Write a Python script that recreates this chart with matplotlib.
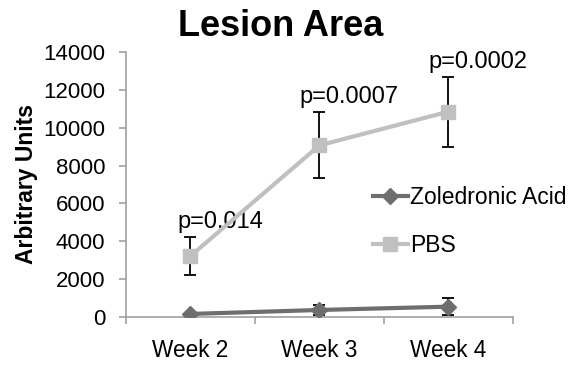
import numpy as np
import matplotlib.pyplot as plt

plt.rcParams['font.family'] = ['Liberation Sans', 'DejaVu Sans']

weeks = ["Week 2", "Week 3", "Week 4"]
zol = [160, 370, 545]
zol_err = [0, 250, 450]
pbs = [3220, 9070, 10850]
pbs_err = [1010, 1750, 1850]
pvals = ["p=0.014", "p=0.0007", "p=0.0002"]

fig = plt.figure(figsize=(5.7, 3.69), dpi=100)
ax = fig.add_axes([0.221, 0.141, 0.679, 0.718])

x = np.arange(len(weeks))
ax.errorbar(x, zol, yerr=zol_err, color='#6e6e6e', lw=3, marker='D', ms=8,
            ecolor='black', elinewidth=1.3, capsize=4, capthick=1.3, zorder=3)
ax.errorbar(x, pbs, yerr=pbs_err, color='#c0c0c0', lw=3, marker='s', ms=10,
            ecolor='black', elinewidth=1.3, capsize=4, capthick=1.3, zorder=3)
# legend handles without the error bars
ax.plot([], [], color='#6e6e6e', lw=3, marker='D', ms=8, label='Zoledronic Acid')
ax.plot([], [], color='#c0c0c0', lw=3, marker='s', ms=10, label='PBS')

# p-values above the PBS points
for i, p in enumerate(pvals):
    ax.text(i + 0.23, pbs[i] + pbs_err[i] + 200, p, ha='center', va='bottom',
            fontsize=17)

ax.set_xlim(-0.5, 2.5)
ax.set_ylim(0, 14000)
ax.set_yticks(np.arange(0, 14001, 2000))
ax.set_xticks(x)
ax.set_xticklabels(weeks, fontsize=16.3)
ax.set_xticks([-0.5, 0.5, 1.5, 2.5], minor=True)
ax.tick_params(axis='x', which='major', length=0, pad=16)
ax.tick_params(axis='x', which='minor', length=5, color='#a0a0a0', width=1.2)
ax.tick_params(axis='y', length=5, color='#a0a0a0', width=1.2, labelsize=16, pad=10)

for s in ['top', 'right']:
    ax.spines[s].set_visible(False)
for s in ['left', 'bottom']:
    ax.spines[s].set_color('#a0a0a0')
    ax.spines[s].set_linewidth(1.2)

ax.set_ylabel("Arbitrary Units", fontsize=16.5, fontweight='bold', labelpad=4)
fig.suptitle("Lesion Area", fontsize=26, fontweight='bold', x=0.493, y=0.975)

leg = ax.legend(loc='upper left', bbox_to_anchor=(0.615, 0.53), frameon=False,
                fontsize=16.5, handlelength=1.5, handletextpad=0.1,
                labelspacing=1.1, borderaxespad=0)

fig.savefig("out.png", dpi=100)
